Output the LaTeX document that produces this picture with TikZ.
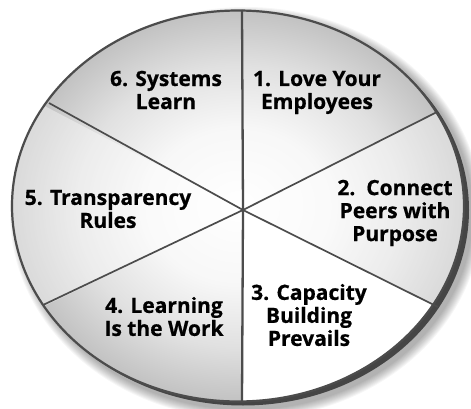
\documentclass[tikz,border=0pt]{standalone}
\usepackage{fontspec}
\setmainfont{Open Sans}[BoldFeatures={FakeBold=0.6}]
\pgfdeclareradialshading{plate}{\pgfpoint{0bp}{0bp}}{color(0bp)=(white); color(10bp)=(white!97!black); color(18bp)=(white!88!black); color(25bp)=(white!76!black); color(50bp)=(white!76!black)}
\begin{document}
\begin{tikzpicture}[x=1pt,y=-1pt,
  spoke/.style={draw=black!70, line width=1.7pt},
  label/.style={font=\bfseries\fontsize{21}{23}\selectfont, align=center, inner sep=0pt, text=black}]
\useasboundingbox (0,0) rectangle (471,409);
% shadow
\foreach \i in {1,...,10}
  \fill[black, opacity=0.035] (246,213) ellipse ({226+\i} and {196+\i});
% rim
\fill[black!73] (243,210) ellipse (226 and 195.5);
% face
\begin{scope}
  \clip (238,206) ellipse (226 and 195.5);
  \shade[shading=plate] (238,206) ellipse (226 and 195.5);
  \coordinate (hub) at (243,210);
  % lighter sectors 2 and 5
  \fill[white, opacity=0.4] (hub) -- (637,13) -- (637,406) -- cycle;
  \fill[white, opacity=0.4] (hub) -- (-150,4) -- (-150,400) -- cycle;
  % sector 3 white
  \fill[white] (hub) -- (633,404) -- (633,500) -- (242,500) -- cycle;
\end{scope}
\draw[black!70, line width=2.2pt] (238,206) ellipse (226 and 195.5);
% spokes
\coordinate (top) at (242,10);
\coordinate (bot) at (242,402);
\coordinate (ur) at (437,112);
\coordinate (ul) at (49,103);
\coordinate (ll) at (43,305);
\coordinate (lr) at (438,307);
\draw[spoke, line width=2.3pt] (top) -- (hub) -- (bot);
\draw[spoke] (ul) -- (hub) -- (lr);
\draw[spoke] (ll) -- (hub) -- (ur);
% labels
\node[label] (s6) at (166,90) {6. Systems\\Learn};
\node[label] (s1) at (317,92.5) {1. Love Your\\Employees};
\node[label] (s5) at (108,209) {5. Transparency\\Rules};
\node[label] (s2) at (395,213) {2.\ \ Connect\\Peers with\\Purpose};
\node[label] (s4) at (164,316.5) {4. Learning\\Is the Work};
\node[label] (s3) at (309,315) {3. Capacity\\Building\\Prevails};
\end{tikzpicture}
\end{document}
